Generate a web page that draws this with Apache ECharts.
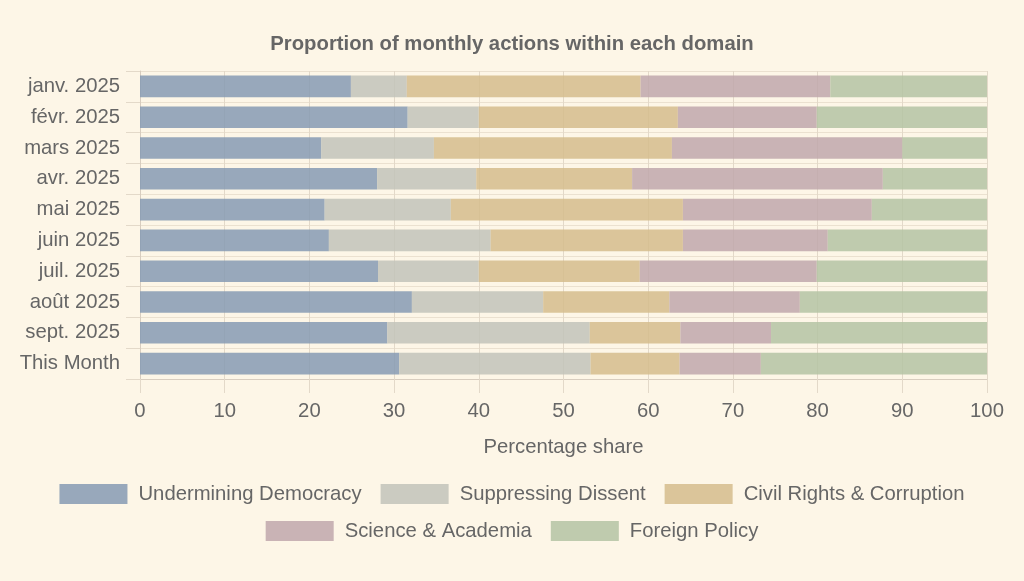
<!DOCTYPE html>
<html>
<head>
<meta charset="utf-8">
<script src="https://cdn.jsdelivr.net/npm/echarts@6/dist/echarts.min.js"></script>
<style>
html,body{margin:0;padding:0;background:#fdf6e7;}
#chart{width:1024px;height:581px;}
</style>
</head>
<body>
<div id="chart"></div>
<script>
var categories = ["janv. 2025","févr. 2025","mars 2025","avr. 2025","mai 2025","juin 2025","juil. 2025","août 2025","sept. 2025","This Month"];
var seriesNames = ["Undermining Democracy","Suppressing Dissent","Civil Rights & Corruption","Science & Academia","Foreign Policy"];
var underminingDemocracy = [24.9, 31.6, 21.4, 28.0, 21.8, 22.3, 28.1, 32.1, 29.2, 30.6];
var suppressingDissent   = [6.6, 8.4, 13.3, 11.7, 14.9, 19.1, 11.9, 15.5, 23.9, 22.6];
var civilRights          = [27.6, 23.5, 28.1, 18.4, 27.4, 22.7, 19.0, 14.9, 10.7, 10.5];
var scienceAcademia      = [22.4, 16.4, 27.2, 29.6, 22.3, 17.1, 20.9, 15.4, 10.7, 9.6];
var foreignPolicy        = [18.5, 20.1, 10.0, 12.3, 13.6, 18.8, 20.1, 22.1, 25.5, 26.7];
var xTicks = [0,10,20,30,40,50,60,70,80,90,100];

var colors = ["#869ab3","#c2c3ba","#d5bc8c","#c0a7ab","#b4c3a3"];
var dataSets = [underminingDemocracy, suppressingDissent, civilRights, scienceAcademia, foreignPolicy];
var font = "'Liberation Sans', Arial, Helvetica, sans-serif";
var fs = 20.3;

function legendRow(names, top){
  return {
    data: names,
    top: top, left: 'center',
    itemWidth: 68, itemHeight: 20, itemGap: 19,
    icon: 'rect',
    textStyle: {fontSize: fs, color: '#666666', padding: [0,0,0,6], fontFamily: font}
  };
}

var chart = echarts.init(document.getElementById('chart'));
chart.setOption({
  backgroundColor: '#fdf6e7',
  color: colors,
  textStyle: {fontFamily: font},
  title: {
    text: 'Proportion of monthly actions within each domain',
    left: 'center', top: 29,
    textStyle: {fontSize: 20.3, fontWeight: 'bold', color: '#666666', fontFamily: font}
  },
  grid: {left: 140, right: 37, top: 71, bottom: 202, containLabel: false},
  legend: [legendRow(seriesNames.slice(0,3), 479), legendRow(seriesNames.slice(3), 516)],
  xAxis: {
    type: 'value', min: 0, max: 100, interval: 10,
    name: 'Percentage share', nameLocation: 'middle', nameGap: 58,
    nameTextStyle: {fontSize: fs, color: '#666666', fontFamily: font},
    axisLine: {show: true, lineStyle: {color: '#d8cdbf', width: 1}},
    axisTick: {show: true, length: 14, lineStyle: {color: '#e3d9c9'}},
    axisLabel: {fontSize: fs, color: '#666666', margin: 22, fontFamily: font,
      formatter: function(v){ return xTicks.indexOf(v) >= 0 ? String(v) : ''; }},
    splitLine: {show: true, lineStyle: {color: '#e3d9c9', width: 1}}
  },
  yAxis: {
    type: 'category', data: categories, inverse: true,
    axisLine: {show: true, lineStyle: {color: '#d8cdbf', width: 1}},
    axisTick: {show: true, length: 14, lineStyle: {color: '#e3d9c9'}},
    axisLabel: {fontSize: fs, color: '#666666', margin: 20, fontFamily: font},
    splitLine: {show: true, lineStyle: {color: '#ebe1d0', width: 1}}
  },
  series: dataSets.map(function(d, i){
    return {
      name: seriesNames[i], type: 'bar', stack: 'total', data: d,
      barWidth: '70%',
      itemStyle: {color: colors[i], opacity: 0.85},
      emphasis: {disabled: true}
    };
  }),
  animation: false
});
</script>
</body>
</html>
